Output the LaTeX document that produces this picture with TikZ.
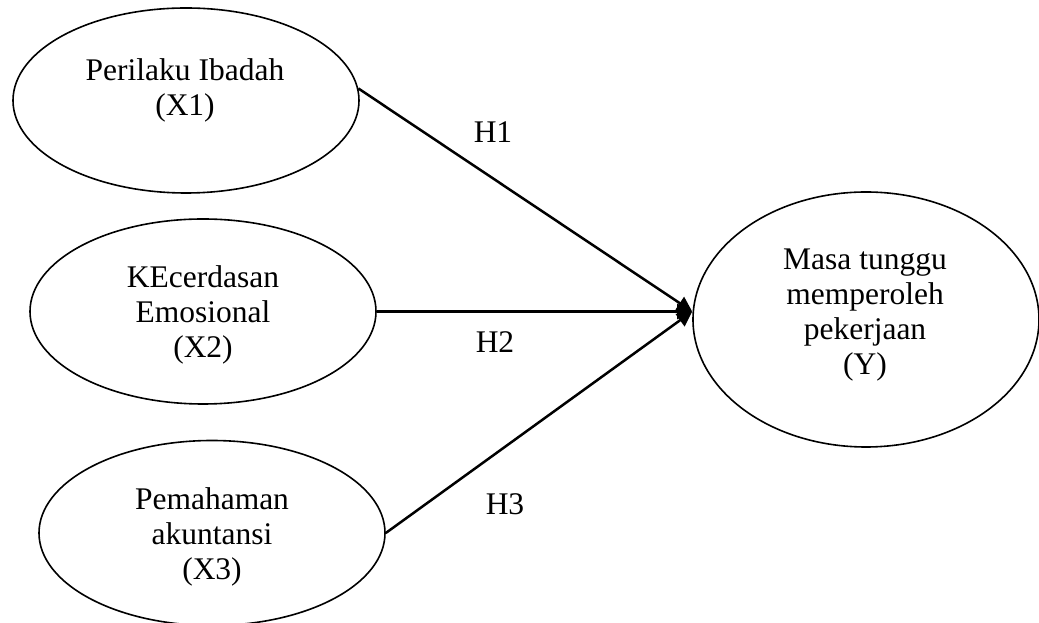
\documentclass[tikz,border=0pt]{standalone}
\usepackage{fontspec}
\setmainfont{Liberation Serif}
\usetikzlibrary{shapes.geometric,arrows.meta}
\begin{document}
\begin{tikzpicture}[x=1pt,y=1pt,
  ell/.style={ellipse,draw,line width=1.6pt,inner sep=0pt,minimum width=346pt,minimum height=185pt},
  lbl/.style={align=center,font=\fontsize{31.5}{35}\selectfont,inner sep=0pt},
  hyp/.style={font=\fontsize{31.5}{35}\selectfont,inner sep=0pt},
  conn/.style={line width=2.5pt,-{Triangle[length=15pt,width=15pt]}}]
\useasboundingbox (0,0) rectangle (1039,623);
\node[ell] (e1) at (186,522.5) {};
\node[ell] (e2) at (203,311.5) {};
\node[ell] (e3) at (212,90) {};
\node[ell,minimum height=255pt] (y) at (866,303.5) {};
\node[lbl] (t1) at (185,533) {Perilaku Ibadah\\(X1)};
\node[lbl] (t2) at (203,308) {KEcerdasan\\Emosional\\(X2)};
\node[lbl] (t3) at (212,86) {Pemahaman\\akuntansi\\(X3)};
\node[lbl] (ty) at (865,308) {Masa tunggu\\memperoleh\\pekerjaan\\(Y)};
\coordinate (tip) at (y.west |- e2.east);
\draw[conn] (e1.4) -- (tip);
\draw[conn] (e2.east) -- (tip);
\draw[conn] (e3.east) -- (tip);
\node[hyp] (h1) at (493,491) {H1};
\node[hyp] (h2) at (495,281) {H2};
\node[hyp] (h3) at (505,119) {H3};
\end{tikzpicture}
\end{document}
